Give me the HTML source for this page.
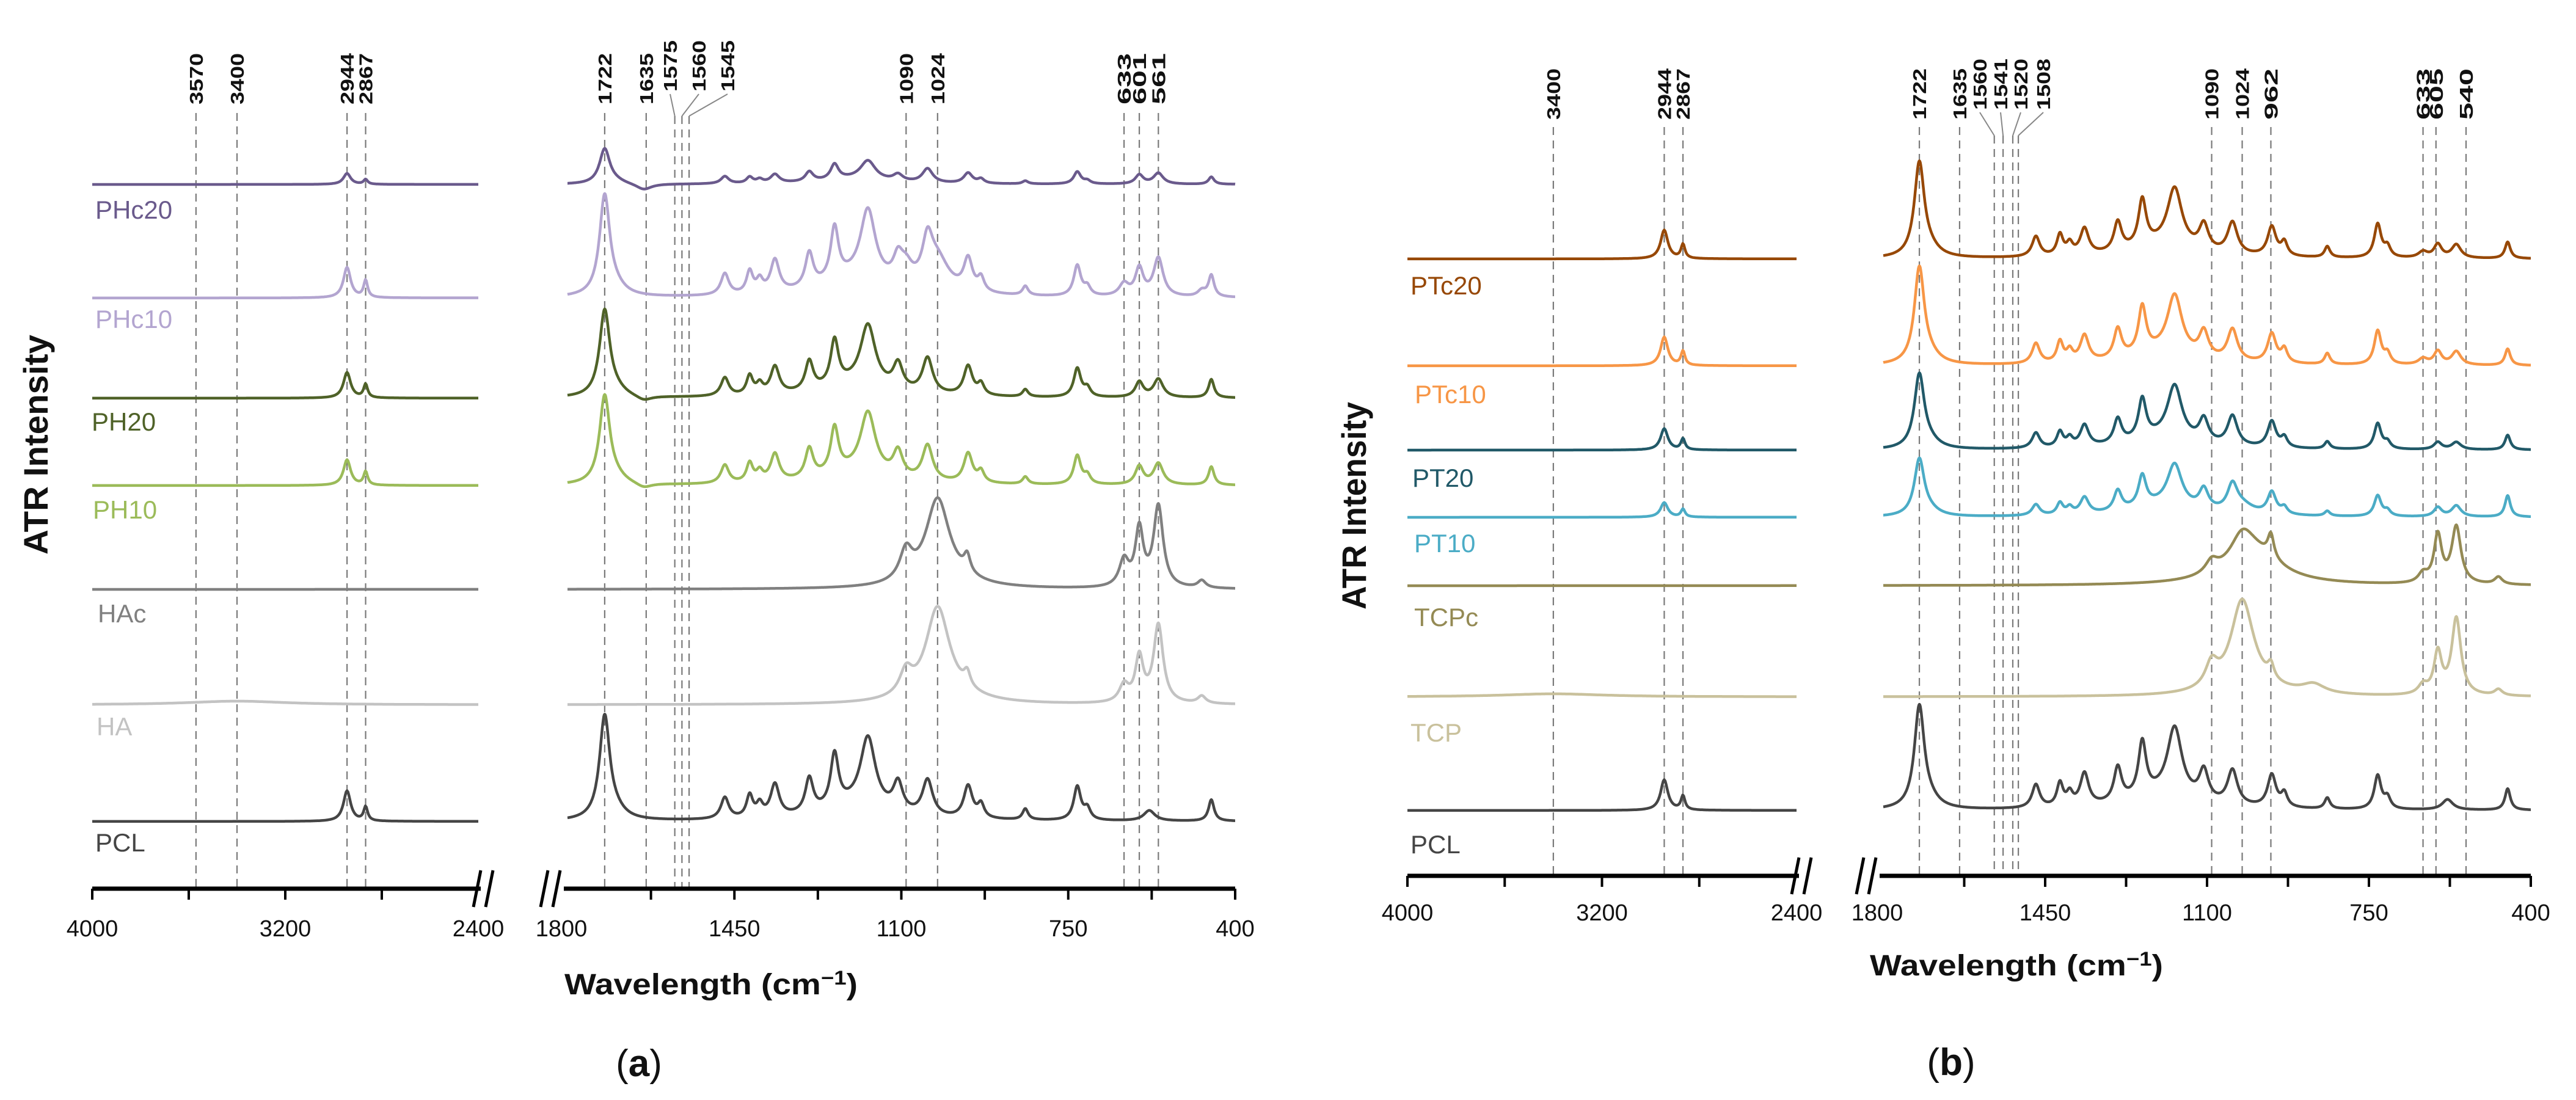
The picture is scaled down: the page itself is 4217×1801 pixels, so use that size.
<!DOCTYPE html>
<html><head><meta charset="utf-8"><style>
html,body{margin:0;padding:0;background:#fff;}
svg{display:block;}
text{font-family:"Liberation Sans",sans-serif;}
</style></head><body>
<svg id="fig" width="4217" height="1801" viewBox="0 0 4217 1801" xmlns="http://www.w3.org/2000/svg">
<rect width="4217" height="1801" fill="#fff"/>
<g id="panelA"></g>
<g id="panelB"></g>
</svg>
<script>
// ---- shared peak catalogue (wavenumber, half-width) ----
const peakPos = [2944,2867,1722,1700,1470,1418,1397,1365,1293,1240,1200,1170,1107,1045,960,933,840,731,710,580,450,1090,1024,962,633,601,561,470,1640,3400,870,1000];
const peakHW  = [18,10,13,25,10,8,8,11,10,10,90,19,12,13,11,8,7,9,8,14,7,16,30,8,12,10,12,10,20,250,30,70];
// ---- heights per series (a.u.), aligned with peakPos ----
const hPHc20 = [18,8,57,4,12,10,6,14,16,25,8,31,11,23,17,7,5,20,5,0,12,0,0,0,0,15,18,0,-10,0,0,0];
const hPHc10 = [50,28,163,12,35,36,20,53,56,86,28,115,38,66,52,22,15,50,14,0,35,28,52,0,20,45,63,10,0,0,0,0];
const hPH20  = [42,22,140,10,30,31,16,45,48,74,20,100,42,58,48,18,12,47,14,0,30,0,0,0,0,25,30,0,-8,0,0,0];
const hPH10  = [42,22,143,10,30,31,16,45,48,74,20,100,42,58,48,18,12,47,14,0,30,0,0,0,0,30,35,0,-8,0,0,0];
const hHAc   = [0,0,0,0,0,0,0,0,0,0,0,0,0,0,0,0,0,0,0,0,0,48,138,28,43,93,133,12,0,0,0,10];
const hHA    = [0,0,0,0,0,0,0,0,0,0,0,0,0,0,0,0,0,0,0,0,0,38,148,23,28,73,128,12,0,6,0,12];
const hPCLa  = [50,23,168,12,35,36,20,53,56,86,23,115,47,59,53,22,18,55,18,17,35,0,0,0,0,0,0,0,0,0,0,0];
const hPTc20 = [47,23,153,12,33,34,18,43,48,76,20,96,42,52,48,22,18,55,17,0,27,0,0,0,10,22,22,0,0,0,0,0];
const hPTc10 = [47,23,156,12,33,34,18,43,48,76,20,96,42,52,48,22,18,55,17,0,27,0,0,0,10,22,22,0,0,0,0,0];
const hPT20  = [35,18,120,10,25,25,14,35,40,65,18,88,38,49,43,16,12,42,11,0,24,0,0,0,0,12,12,0,0,0,0,0];
const hPT10  = [24,13,92,8,18,19,11,27,33,50,18,69,33,42,36,11,8,34,9,0,35,0,14,0,0,15,18,0,0,0,0,0];
const hTCPc  = [0,0,0,0,0,0,0,0,0,0,0,0,0,0,0,0,0,0,0,0,0,20,43,38,15,78,93,12,0,0,0,53];
const hTCP   = [0,0,0,0,0,0,0,0,0,0,0,0,0,0,0,0,0,0,0,0,0,38,148,23,15,68,126,10,0,5,15,10];
const hPCLb  = [50,23,166,12,38,38,20,53,56,88,23,113,49,57,53,22,18,55,18,17,35,0,0,0,0,0,0,0,0,0,0,0];
// ---- axis ticks / marker lines ----
const leftTickLabels = [4000,3200,2400];
const rightTickLabels = [1800,1450,1100,750,400];
const leftMinorTicks = [4000,3600,3200,2800];
const rightMinorTicks = [1625,1450,1275,1100,925,750,575,400];
const markA = [3570,3400,2944,2867,1722,1635,1575,1560,1545,1090,1024,633,601,561];
const markB = [3400,2944,2867,1722,1635,1560,1541,1520,1508,1090,1024,962,633,605,540];

const NS="http://www.w3.org/2000/svg";
function mk(parent,tag,attrs,txt){const e=document.createElementNS(NS,tag);for(const k in attrs)e.setAttribute(k,attrs[k]);if(txt!==undefined)e.textContent=txt;parent.appendChild(e);return e;}
function intensity(h,w){let s=0;for(let i=0;i<peakPos.length;i++){if(h[i]){const d=(w-peakPos[i])/peakHW[i];s+=h[i]/(1+d*d);}}return s;}

function panel(g,cfg){
  const xL=w=>cfg.l0+(4000-w)/1600*(cfg.l1-cfg.l0);
  const xR=w=>cfg.r0+(1800-w)/1400*(cfg.r1-cfg.r0);
  const xw=w=>w>=2400?xL(w):xR(w);
  cfg.marks.forEach(m=>{
    const x=xw(m);const off=cfg.offsets[m];
    const top=off?cfg.lineTopOff:cfg.lineTop;
    const ln=mk(g,'line',{x1:x,x2:x,y1:top,y2:cfg.axisY,stroke:'#7a7a7a','stroke-width':2.2,'stroke-dasharray':'13 9'});
    
    
    const lx=off?off:x;const by=off?cfg.labelBotOff:cfg.labelBot;
    if(off){const ld=mk(g,'line',{x1:lx,y1:by+4,x2:x,y2:top,stroke:'#888','stroke-width':2});
      
      }
    const t=mk(g,'text',{x:0,y:0,transform:`translate(${lx+11},${by}) rotate(-90)`,'font-size':31,'font-weight':'bold',fill:'#111',textLength:84,lengthAdjust:'spacingAndGlyphs'},String(m));
    
    
  });
  cfg.series.forEach(s=>{
    let dL='',dR='';
    for(let w=4000;w>=2400;w-=4){dL+=(dL?'L':'M')+xL(w).toFixed(1)+','+(s.base-intensity(s.h,w)).toFixed(1);}
    for(let w=1800;w>=400;w-=1){dR+=(dR?'L':'M')+xR(w).toFixed(1)+','+(s.base-intensity(s.h,w)).toFixed(1);}
    const p=mk(g,'path',{d:dL+' '+dR,fill:'none',stroke:s.c,'stroke-width':4.5,'stroke-linejoin':'round'});
    
    
    const t=mk(g,'text',{x:s.lx,y:s.ly+15,'font-size':42,fill:s.c},s.n);
    
    
  });
  const ay=cfg.axisY;
  const a1=mk(g,'line',{x1:cfg.l0,x2:cfg.l1+4,y1:ay,y2:ay,stroke:'#000','stroke-width':7});
  
  
  const a2=mk(g,'line',{x1:cfg.r0-6,x2:cfg.r1,y1:ay,y2:ay,stroke:'#000','stroke-width':7});
  
  
  [[cfg.l1-2],[cfg.l1+18],[cfg.r0-38],[cfg.r0-18]].forEach(([bx])=>{
    const b=mk(g,'line',{x1:bx+6,y1:ay-30,x2:bx-6,y2:ay+30,stroke:'#000','stroke-width':5});
    
    
  });
  leftMinorTicks.forEach(w=>{const t=mk(g,'line',{x1:xL(w),x2:xL(w),y1:ay,y2:ay+18,stroke:'#000','stroke-width':4});
    });
  rightMinorTicks.forEach(w=>{const t=mk(g,'line',{x1:xR(w),x2:xR(w),y1:ay,y2:ay+18,stroke:'#000','stroke-width':4});
    });
  leftTickLabels.forEach(w=>{const t=mk(g,'text',{x:xL(w),y:cfg.tickY,'font-size':38,'text-anchor':'middle',fill:'#111'},String(w));
    });
  rightTickLabels.forEach(w=>{const t=mk(g,'text',{x:w===1800?xR(w)-10:xR(w),y:cfg.tickY,'font-size':38,'text-anchor':'middle',fill:'#111'},String(w));
    });
  const xt=mk(g,'text',{x:cfg.xtX,y:cfg.xtY,'font-size':48,'font-weight':'bold','text-anchor':'middle',fill:'#111',textLength:480,lengthAdjust:'spacingAndGlyphs'});
  xt.innerHTML='Wavelength (cm<tspan dy="-16" font-size="32">−1</tspan><tspan dy="16">)</tspan>';
  
  
  const yt=mk(g,'text',{x:0,y:0,transform:`translate(${cfg.ytX},${cfg.ytY}) rotate(-90)`,'font-size':56,'font-weight':'bold','text-anchor':'middle',fill:'#111',textLength:cfg.ytLen,lengthAdjust:'spacingAndGlyphs'},'ATR Intensity');
  
  
  const pl=mk(g,'text',{x:cfg.plX,y:cfg.plY,'font-size':62,'text-anchor':'middle',fill:'#111','font-family':'Liberation Serif, serif'});
  pl.innerHTML=cfg.plT;
  
  
}

panel(document.getElementById('panelA'),{
  l0:151,l1:783,r0:929,r1:2022,axisY:1455,tickY:1533,
  lineTop:185,labelBot:171,lineTopOff:190,labelBotOff:150,
  marks:markA,offsets:{1575:1097,1560:1144,1545:1191},
  xtX:1164,xtY:1628,ytX:78,ytY:728,ytLen:360,plX:1046,plY:1762,plT:'(<tspan font-weight="bold">a</tspan>)',
  series:[
    {n:'PHc20',h:hPHc20,base:302,c:'#6a5a8c',lx:156,ly:343},
    {n:'PHc10',h:hPHc10,base:488,c:'#b3a5d0',lx:156,ly:522},
    {n:'PH20',h:hPH20,base:652,c:'#4f6228',lx:150,ly:690},
    {n:'PH10',h:hPH10,base:795,c:'#9bbb59',lx:152,ly:834},
    {n:'HAc',h:hHAc,base:965,c:'#808080',lx:160,ly:1004},
    {n:'HA',h:hHA,base:1154,c:'#c3c3c3',lx:158,ly:1189},
    {n:'PCL',h:hPCLa,base:1345,c:'#454545',lx:156,ly:1379}
  ]
});
panel(document.getElementById('panelB'),{
  l0:2304,l1:2941,r0:3083,r1:4143,axisY:1434,tickY:1507,
  lineTop:208,labelBot:196,lineTopOff:222,labelBotOff:180,
  marks:markB,offsets:{1560:3241,1541:3275,1520:3308,1508:3345},
  xtX:3301,xtY:1597,ytX:2236,ytY:828,ytLen:340,plX:3194,plY:1760,plT:'(<tspan font-weight="bold">b</tspan>)',
  series:[
    {n:'PTc20',h:hPTc20,base:424,c:'#974806',lx:2309,ly:467},
    {n:'PTc10',h:hPTc10,base:599,c:'#f79646',lx:2316,ly:645},
    {n:'PT20',h:hPT20,base:737,c:'#215968',lx:2312,ly:782},
    {n:'PT10',h:hPT10,base:847,c:'#4bacc6',lx:2315,ly:889},
    {n:'TCPc',h:hTCPc,base:959,c:'#948a54',lx:2315,ly:1010},
    {n:'TCP',h:hTCP,base:1141,c:'#c9c19c',lx:2309,ly:1199},
    {n:'PCL',h:hPCLb,base:1327,c:'#454545',lx:2309,ly:1382}
  ]
});
</script>
</body></html>
